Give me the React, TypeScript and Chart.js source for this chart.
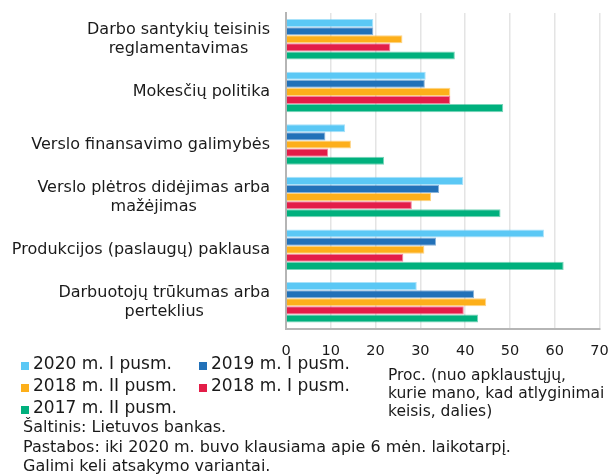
import { useEffect, useRef } from "react";
import { Chart, registerables } from "chart.js";

Chart.register(...registerables);

const categories: string[][] = [
  ["Darbo santykių teisinis", "reglamentavimas"],
  ["Mokesčių politika"],
  ["Verslo finansavimo galimybės"],
  ["Verslo plėtros didėjimas arba", "mažėjimas"],
  ["Produkcijos (paslaugų) paklausa"],
  ["Darbuotojų trūkumas arba", "perteklius"],
];

const seriesNames = [
  "2020 m. I pusm.",
  "2019 m. I pusm.",
  "2018 m. II pusm.",
  "2018 m. I pusm.",
  "2017 m. II pusm.",
];
const seriesColors = ["#5BC8F5", "#2271B8", "#FDAF1A", "#E31D48", "#00B07D"];

const values2020I = [19.5, 31.2, 13.2, 39.6, 57.6, 29.2];
const values2019I = [19.5, 31.0, 8.8, 34.2, 33.5, 42.0];
const values2018II = [26.0, 36.7, 14.5, 32.4, 30.9, 44.7];
const values2018I = [23.3, 36.7, 9.4, 28.1, 26.2, 39.7];
const values2017II = [37.7, 48.5, 21.9, 47.9, 62.0, 42.9];

const xTickValues = [0, 10, 20, 30, 40, 50, 60, 70];

const unitNote = ["Proc. (nuo apklaustųjų,", "kurie mano, kad atlyginimai", "keisis, dalies)"];
const sourceNotes = [
  "Šaltinis: Lietuvos bankas.",
  "Pastabos: iki 2020 m. buvo klausiama apie 6 mėn. laikotarpį.",
  "Galimi keli atsakymo variantai.",
];

const FONT = '"DejaVu Sans"';
const TEXT = "#1a1a1a";

const overlayPlugin = {
  id: "overlay",
  afterDraw(chart: any) {
    const ctx = chart.ctx as CanvasRenderingContext2D;
    const yScale = chart.scales.y;
    ctx.save();
    ctx.fillStyle = TEXT;
    ctx.textBaseline = "middle";

    // category labels: block right-aligned, lines centred
    ctx.font = `16px ${FONT}`;
    ctx.textAlign = "center";
    categories.forEach((lines, i) => {
      const cy = yScale.getPixelForValue(i);
      const maxW = Math.max(...lines.map((l) => ctx.measureText(l).width));
      const cx = yScale.right - 16 - maxW / 2;
      lines.forEach((l, j) => {
        ctx.fillText(l, cx, cy + (j - (lines.length - 1) / 2) * 19);
      });
    });

    // legend
    ctx.textAlign = "left";
    ctx.font = `17px ${FONT}`;
    const colX = [21, 199];
    const rowY = [365, 387, 409];
    chart.data.datasets.forEach((ds: any, i: number) => {
      const col = i % 2;
      const row = Math.floor(i / 2);
      const x = colX[col];
      const y = rowY[row];
      ctx.fillStyle = seriesColors[i];
      ctx.fillRect(x, y - 3, 8, 8);
      ctx.fillStyle = TEXT;
      ctx.fillText(ds.label, x + 12, y);
    });

    // unit note
    ctx.font = `15.5px ${FONT}`;
    unitNote.forEach((l, j) => ctx.fillText(l, 388, 376 + j * 18));

    // source notes
    ctx.font = `16px ${FONT}`;
    sourceNotes.forEach((l, j) => ctx.fillText(l, 23, 428 + j * 19.5));

    ctx.restore();
  },
};

export default function App() {
  const canvasRef = useRef<HTMLCanvasElement | null>(null);

  useEffect(() => {
    const canvas = canvasRef.current;
    if (!canvas) return;
    const allValues = [values2020I, values2019I, values2018II, values2018I, values2017II];
    const chart = new Chart(canvas, {
      type: "bar",
      data: {
        labels: categories.map((c) => c.join(" ")),
        datasets: allValues.map((vals, i) => ({
          label: seriesNames[i],
          data: vals,
          backgroundColor: seriesColors[i],
          borderColor: seriesColors[i] + "88",
          borderWidth: 1,
          categoryPercentage: 0.77,
          barPercentage: 1,
        })),
      },
      options: {
        indexAxis: "y",
        responsive: false,
        animation: false,
        devicePixelRatio: 1,
        layout: { padding: { left: 0, top: 13, right: 14.5, bottom: 116 } },
        plugins: {
          legend: { display: false },
          tooltip: { enabled: false },
        },
        scales: {
          x: {
            type: "linear",
            min: 0,
            max: 70,
            afterBuildTicks: (scale: any) => {
              scale.ticks = xTickValues.map((v) => ({ value: v }));
            },
            grid: {
              color: "#e4e4e4",
              lineWidth: 1.5,
              drawTicks: true,
              tickLength: 14,
              tickColor: "rgba(0,0,0,0)",
            },
            border: { display: true, color: "#b5b5b5", width: 2 },
            ticks: {
              padding: 0,
              color: TEXT,
              font: { family: "DejaVu Sans", size: 14.5 },
            },
          },
          y: {
            type: "category",
            afterFit: (scale: any) => {
              scale.width = 286;
            },
            grid: { display: false, drawTicks: false },
            border: { display: true, color: "#b5b5b5", width: 2 },
            ticks: { display: false },
          },
        },
      },
      plugins: [overlayPlugin],
    });
    return () => chart.destroy();
  }, []);

  return (
    <div style={{ position: "absolute", left: 0, top: 0, width: 614, height: 476, background: "#fff" }}>
      <canvas ref={canvasRef} width={614} height={476} />
    </div>
  );
}
